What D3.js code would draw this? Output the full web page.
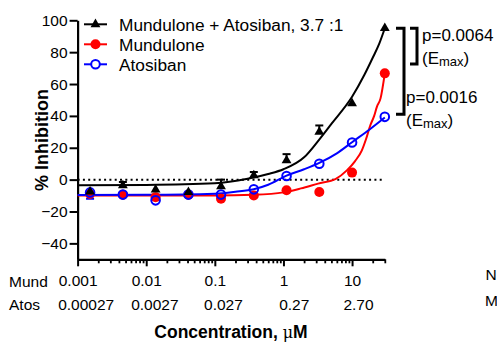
<!DOCTYPE html>
<html>
<head>
<meta charset="utf-8">
<script src="https://cdn.jsdelivr.net/npm/d3@7"></script>
<style>
  body { margin: 0; background: #fff; }
  svg { display: block; font-family: Arial, "Liberation Sans", sans-serif; }
</style>
</head>
<body>
<div id="chart"></div>
<script>
// concentrations (Mundulone, uM)
const concs = [0.00152, 0.00457, 0.0137, 0.0412, 0.123, 0.37, 1.11, 3.33, 10, 30];

// % inhibition
const comboVals = [-7.5, -3.6, -6.3, -7.8, -4.2, 2.7, 12.1, 30, 47.8, 95];
const comboErrUp = [0, 2.1, 0, 0, 4.2, 2.1, 3.9, 4, 0, 0];
const mundVals = [-9, -9.5, -11, -9.5, -12, -9.9, -6.7, -7.8, 4.4, 66.7];
const atosVals = [-8, -9.4, -13, -9.4, -9.4, -6.1, 2.3, 10, 23.3, 39.4];
const atosErrDown = [4, 0, 0, 0, 0, 0, 0, 0, 0, 0];

// fitted curves
const comboFitX = [0.001, 0.01, 0.1, 0.3, 0.6, 1, 2, 3.3, 5, 10, 15, 20, 25, 30];
const comboFitY = [-3.5, -3.3, -2.3, 0.5, 3.5, 6.5, 14, 25, 35, 52, 65.5, 76.5, 85.5, 95];
const mundFitX = [0.001, 0.1, 0.37, 1, 1.8, 3.2, 5.8, 8.4, 11, 13.9, 16, 18.4, 21, 23, 26, 30];
const mundFitY = [-10, -10, -9.5, -8, -5.5, -2.5, 0.5, 5.8, 11.5, 18.4, 25.5, 34, 40, 45.7, 51, 66.7];
const atosFitX = [0.001, 0.01, 0.1, 0.2, 0.37, 0.6, 1.11, 2, 3.33, 6, 10, 18, 30];
const atosFitY = [-9.6, -9.5, -8.8, -7.6, -6, -3.2, 2.5, 6.5, 10.5, 16.5, 23.5, 31.5, 39];

// axes
const xMajor = [0.001, 0.01, 0.1, 1, 10];
const mundLabels = ["0.001", "0.01", "0.1", "1", "10"];
const atosLabels = ["0.00027", "0.0027", "0.027", "0.27", "2.70"];
const minorMult = [2, 3, 4, 5, 6, 7, 8, 9];
const yTicks = [-40, -20, 0, 20, 40, 60, 80, 100];

const legendNames = ["Mundulone + Atosiban, 3.7 :1", "Mundulone", "Atosiban"];

// significance brackets (in % inhibition)
const bracketOuter = [95, 41];
const bracketInner = [95, 72.5];
const pTexts = ["p=0.0064", "p=0.0016"];

const width = 497, height = 343;

const svg = d3.select("#chart").append("svg")
    .attr("width", width)
    .attr("height", height);

const xScale = d3.scaleLog().domain([0.001, 30]).range([77.6, 384.8]);
const yScale = d3.scaleLinear().domain([-50, 100]).range([259.3, 20.3]);

// y axis
const yAxisG = svg.append("g")
    .attr("transform", "translate(77.6,0)")
    .call(d3.axisLeft(yScale).tickValues(yTicks).tickSize(8).tickPadding(2).tickSizeOuter(0));

yAxisG.select(".domain").attr("stroke-width", 2.2);
yAxisG.selectAll(".tick line").attr("stroke-width", 2);
yAxisG.selectAll("text").attr("font-size", 15.5).attr("fill", "#000").attr("font-family", null);

// x axis (major)
const xAxisG = svg.append("g")
    .attr("transform", "translate(0,259.3)")
    .call(d3.axisBottom(xScale)
        .tickValues(xMajor)
        .tickSize(7)
        .tickPadding(9)
        .tickSizeOuter(0)
        .tickFormat((d, i) => mundLabels[i]));

xAxisG.select(".domain").attr("stroke-width", 2.2);
xAxisG.selectAll(".tick line").attr("stroke-width", 2);
xAxisG.selectAll("text").attr("font-size", 15.5).attr("fill", "#000").attr("font-family", null);

// x axis (minor)
let minorTicks = [];
xMajor.forEach(function(m) {
    minorMult.forEach(function(k) {
        if (m * k <= 30) minorTicks.push(m * k);
    });
});

const xMinorG = svg.append("g")
    .attr("transform", "translate(0,259.3)")
    .call(d3.axisBottom(xScale).tickValues(minorTicks).tickSize(4).tickSizeOuter(0).tickFormat(""));
xMinorG.select(".domain").remove();
xMinorG.selectAll(".tick line").attr("stroke-width", 1.8);

// Atos labels, left-aligned with the Mund labels
xAxisG.selectAll(".tick text").each(function(d, i) {
    const w = this.getComputedTextLength();
    svg.append("text")
        .attr("x", xScale(d) - w / 2)
        .attr("y", 309.5)
        .attr("font-size", 15.5)
        .text(atosLabels[i]);
});

svg.append("text").attr("x", 9).attr("y", 286.7).attr("font-size", 15.5).text("Mund");
svg.append("text").attr("x", 9).attr("y", 310).attr("font-size", 15.5).text("Atos");
svg.append("text").attr("x", 485.5).attr("y", 280).attr("font-size", 15.5).text("N");
svg.append("text").attr("x", 485).attr("y", 305.7).attr("font-size", 15.5).text("M");

// axis titles
const xTitle = svg.append("text")
    .attr("x", 231)
    .attr("y", 338)
    .attr("text-anchor", "middle")
    .attr("font-size", 17.5)
    .attr("font-weight", "bold")
    .text("Concentration, ");
xTitle.append("tspan").attr("font-weight", "normal").attr("font-family", "'DejaVu Serif', serif").attr("font-size", 16).text("\u03bc");
xTitle.append("tspan").text("M");

svg.append("text")
    .attr("transform", "translate(48,140) rotate(-90)")
    .attr("text-anchor", "middle")
    .attr("font-size", 18)
    .attr("font-weight", "bold")
    .text("% Inhibition");

// zero line
svg.append("line")
    .attr("x1", xScale(0.001)).attr("x2", xScale(28))
    .attr("y1", yScale(0)).attr("y2", yScale(0))
    .attr("stroke", "#000")
    .attr("stroke-width", 2)
    .attr("stroke-dasharray", "2,3.3");

// fitted curves
const lineGen = d3.line()
    .x(d => xScale(d[0]))
    .y(d => yScale(d[1]))
    .curve(d3.curveMonotoneX);

const drawFit = function(xs, ys, color) {
    svg.append("path")
        .datum(xs.map((x, i) => [x, ys[i]]))
        .attr("fill", "none")
        .attr("stroke", color)
        .attr("stroke-width", 2)
        .attr("d", lineGen);
};

drawFit(mundFitX, mundFitY, "#ff0000");
drawFit(atosFitX, atosFitY, "#0000ff");
drawFit(comboFitX, comboFitY, "#000000");

// error bars
const drawErr = function(vals, errs, dir, color) {
    const g = svg.append("g").attr("stroke", color).attr("stroke-width", 2);
    concs.forEach(function(c, i) {
        if (!errs[i]) return;
        const x = xScale(c);
        const yEnd = yScale(vals[i] + dir * errs[i]);
        g.append("line").attr("x1", x).attr("x2", x).attr("y1", yScale(vals[i])).attr("y2", yEnd);
        g.append("line").attr("x1", x - 4).attr("x2", x + 4).attr("y1", yEnd).attr("y2", yEnd);
    });
};

drawErr(atosVals, atosErrDown, -1, "#0000ff");
drawErr(comboVals, comboErrUp, 1, "#000000");

// points
svg.append("g").selectAll("circle")
    .data(mundVals)
    .enter()
    .append("circle")
    .attr("cx", (d, i) => xScale(concs[i]))
    .attr("cy", d => yScale(d))
    .attr("r", 5)
    .attr("fill", "#ff0000");

svg.append("g").selectAll("circle")
    .data(atosVals)
    .enter()
    .append("circle")
    .attr("cx", (d, i) => xScale(concs[i]))
    .attr("cy", d => yScale(d))
    .attr("r", 4.3)
    .attr("fill", "none")
    .attr("stroke", "#0000ff")
    .attr("stroke-width", 2);

const tri = d3.symbol().type(d3.symbolTriangle).size(42);

svg.append("g").selectAll("path")
    .data(comboVals)
    .enter()
    .append("path")
    .attr("transform", (d, i) => `translate(${xScale(concs[i])},${yScale(d)})`)
    .attr("d", tri)
    .attr("fill", "#000");

// legend
const legendColors = ["#000000", "#ff0000", "#0000ff"];
const legendG = svg.append("g");

legendNames.forEach(function(name, i) {
    const cy = 24.3 + i * 20;
    legendG.append("line")
        .attr("x1", 84).attr("x2", 107)
        .attr("y1", cy).attr("y2", cy)
        .attr("stroke", legendColors[i])
        .attr("stroke-width", 2);
    if (i === 0) {
        legendG.append("path").attr("transform", `translate(95.5,${cy})`).attr("d", tri).attr("fill", "#000");
    } else if (i === 1) {
        legendG.append("circle").attr("cx", 95.5).attr("cy", cy).attr("r", 5).attr("fill", "#ff0000");
    } else {
        legendG.append("circle").attr("cx", 95.5).attr("cy", cy).attr("r", 4.3)
            .attr("fill", "#fff").attr("stroke", "#0000ff").attr("stroke-width", 2);
    }
    legendG.append("text")
        .attr("x", 119)
        .attr("y", cy + 6.2)
        .attr("font-size", 17.3)
        .text(name);
});

// brackets
const drawBracket = function(vals, x0, x1) {
    const y0 = yScale(vals[0]), y1 = yScale(vals[1]);
    svg.append("path")
        .attr("d", `M${x0},${y0}H${x1}V${y1}H${x0}`)
        .attr("fill", "none")
        .attr("stroke", "#000")
        .attr("stroke-width", 3);
};

drawBracket(bracketOuter, 396, 404);
drawBracket(bracketInner, 410, 417);

const addP = function(txt, x, y) {
    svg.append("text").attr("x", x).attr("y", y).attr("font-size", 17).text(txt);
    const e = svg.append("text").attr("x", x).attr("y", y + 23).attr("font-size", 17).text("(E");
    e.append("tspan").attr("font-size", 13).attr("dy", 2).text("max");
    e.append("tspan").attr("dy", -2).text(")");
};

addP(pTexts[0], 422, 41);
addP(pTexts[1], 406, 103);
</script>
</body>
</html>
